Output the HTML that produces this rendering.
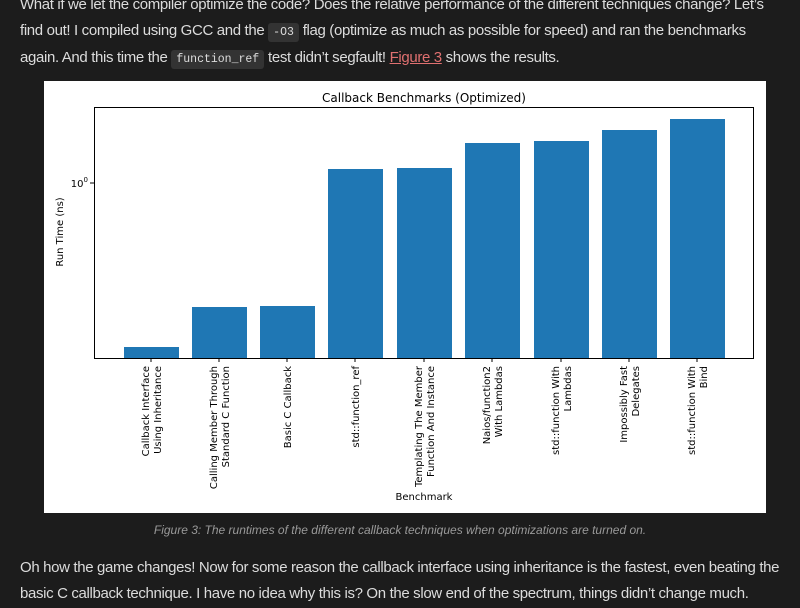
<!DOCTYPE html>
<html><head><style>
body{margin:0;width:800px;height:608px;background:#1c1c1c;overflow:hidden;font-family:"Liberation Sans",sans-serif;color:#dcdcdc;position:relative}
.p{position:absolute;left:20px;width:780px;font-size:15px;line-height:25.5px;white-space:nowrap;letter-spacing:-0.35px}
code{font-family:"Liberation Mono",monospace;font-size:11.5px;background:#333;padding:3px 5px;border-radius:3px;color:#ddd;letter-spacing:0}
a{color:#e07070;text-decoration:underline}
.cap{position:absolute;top:523px;left:0;width:800px;text-align:center;font-size:12px;font-style:italic;color:#999}
</style></head><body>
<div class="p" style="top:-8px">What if we let the compiler optimize the code? Does the relative performance of the different techniques change? Let’s<br>find out! I compiled using GCC and the <code>-O3</code> flag (optimize as much as possible for speed) and ran the benchmarks<br>again. And this time the <code>function_ref</code> test didn’t segfault! <a>Figure 3</a> shows the results.</div>
<svg style="position:absolute;left:44px;top:81px" width="722" height="432" viewBox="44 81 722 432" font-family="DejaVu Sans, Liberation Sans, sans-serif">
<rect x="44" y="81" width="722" height="432" fill="#fff"/>
<text x="424" y="102" font-size="12" text-anchor="middle" fill="#000">Callback Benchmarks (Optimized)</text>
<g fill="#1f77b4">
<rect x="124" y="347" width="55" height="11"/>
<rect x="192" y="307" width="55" height="51"/>
<rect x="260" y="306" width="55" height="52"/>
<rect x="328" y="169" width="55" height="189"/>
<rect x="397" y="168" width="55" height="190"/>
<rect x="465" y="143" width="55" height="215"/>
<rect x="534" y="141" width="55" height="217"/>
<rect x="602" y="130" width="55" height="228"/>
<rect x="670" y="119" width="55" height="239"/>
</g>
<rect x="94.5" y="107.5" width="659" height="251" fill="none" stroke="#000" stroke-width="1"/>
<line x1="90" y1="183" x2="94" y2="183" stroke="#000"/>
<text x="88" y="187" font-size="10" text-anchor="end">10<tspan dy="-5" font-size="7">0</tspan></text>
<text transform="translate(63,232) rotate(-90)" font-size="10" text-anchor="middle">Run Time (ns)</text>
<text x="424" y="500" font-size="10" text-anchor="middle">Benchmark</text>
<g stroke="#000"><line x1="151" y1="358" x2="151" y2="362"/><line x1="219" y1="358" x2="219" y2="362"/><line x1="287" y1="358" x2="287" y2="362"/><line x1="355" y1="358" x2="355" y2="362"/><line x1="424" y1="358" x2="424" y2="362"/><line x1="492" y1="358" x2="492" y2="362"/><line x1="561" y1="358" x2="561" y2="362"/><line x1="629" y1="358" x2="629" y2="362"/><line x1="697" y1="358" x2="697" y2="362"/></g>
<g font-size="10" text-anchor="end">
<text transform="translate(151,366) rotate(-90)"><tspan x="0" dy="-2">Callback Interface</tspan><tspan x="0" dy="12">Using Inheritance</tspan></text>
<text transform="translate(219,366) rotate(-90)"><tspan x="0" dy="-2">Calling Member Through</tspan><tspan x="0" dy="12">Standard C Function</tspan></text>
<text transform="translate(291,366) rotate(-90)">Basic C Callback</text>
<text transform="translate(359,366) rotate(-90)">std::function_ref</text>
<text transform="translate(424,366) rotate(-90)"><tspan x="0" dy="-2">Templating The Member</tspan><tspan x="0" dy="12">Function And Instance</tspan></text>
<text transform="translate(492,366) rotate(-90)"><tspan x="0" dy="-2">Naios/function2</tspan><tspan x="0" dy="12">With Lambdas</tspan></text>
<text transform="translate(561,366) rotate(-90)"><tspan x="0" dy="-2">std::function With</tspan><tspan x="0" dy="12">Lambdas</tspan></text>
<text transform="translate(629,366) rotate(-90)"><tspan x="0" dy="-2">Impossibly Fast</tspan><tspan x="0" dy="12">Delegates</tspan></text>
<text transform="translate(697,366) rotate(-90)"><tspan x="0" dy="-2">std::function With</tspan><tspan x="0" dy="12">Bind</tspan></text>
</g>
</svg>
<div class="cap">Figure 3: The runtimes of the different callback techniques when optimizations are turned on.</div>
<div class="p" style="top:555px">Oh how the game changes! Now for some reason the callback interface using inheritance is the fastest, even beating the<br>basic C callback technique. I have no idea why this is? On the slow end of the spectrum, things didn’t change much.</div>
</body></html>
